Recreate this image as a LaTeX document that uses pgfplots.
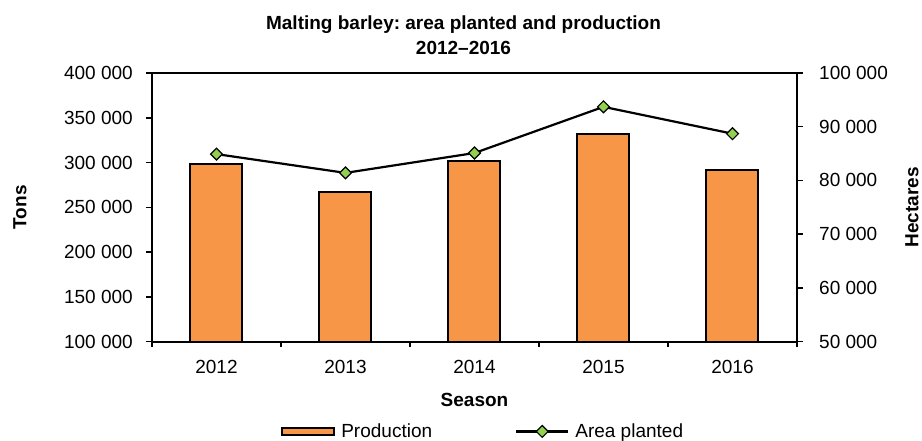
\documentclass[border=0pt]{standalone}
\usepackage{pgfplots}
\pgfplotsset{compat=1.18}
\usepackage{fontspec}
\setmainfont{Liberation Sans}
\frenchspacing
\definecolor{barorange}{RGB}{247,150,70}
\definecolor{markgreen}{RGB}{146,208,80}
\newcommand{\fs}{\fontsize{19}{22}\selectfont}
\pgfplotsset{
  barlegend/.style={legend image code/.code={\draw[##1] (0pt,-3.8pt) rectangle (52pt,3.8pt);}},
  linelegend/.style={legend image code/.code={\draw[mark repeat=2, mark phase=2, ##1] plot coordinates {(0pt,0pt) (26pt,0pt) (52pt,0pt)};}},
  common/.style={
    scale only axis, width=645pt, height=268.5pt,
    xmin=-0.5, xmax=4.5,
    axis line style={line width=2pt},
    tick align=outside,
    major tick length=6pt,
    every tick/.style={black, line width=1.5pt},
    tick label style={font=\fs},
    label style={font=\fs\bfseries},
    scaled y ticks=false,
    yticklabel style={/pgf/number format/fixed, /pgf/number format/1000 sep={\ }, /pgf/number format/assume math mode=true},
  }
}
\begin{document}
\begin{tikzpicture}
\begin{axis}[common, name=main,
  ymin=100000, ymax=400000, ytick={100000,150000,...,400000},
  ytick pos=left,
  xtick={0,1,2,3,4}, xticklabels={2012,2013,2014,2015,2016},
  minor xtick={-0.5,0.5,1.5,2.5,3.5,4.5},
  xtick pos=bottom,
  major x tick style={draw=none},
  minor tick length=5pt,
  minor x tick style={black, line width=1.5pt},
  xticklabel style={inner sep=0pt, yshift=-12.5pt},
  yticklabel style={inner sep=0pt, xshift=-13pt},
  title={Malting barley: area planted and production\\2012–2016},
  title style={font=\fontsize{19}{25.5}\selectfont\bfseries, align=center, at={(axis description cs:0.5,1)}, anchor=south, inner sep=0pt, yshift=12pt, xshift=-11pt},
  xlabel={Season}, xlabel style={at={(axis description cs:0.5,-0.217)}, anchor=center},
  ylabel={Tons}, ylabel style={at={(axis description cs:-0.2047,0.5)}, anchor=center},
  ybar, bar width=52pt,
]
\addplot[fill=barorange, draw=black, line width=2pt, bar shift=0pt]
  coordinates {(0,298000) (1,267000) (2,302000) (3,332000) (4,292000)};
\end{axis}
\begin{axis}[common,
  ymin=50000, ymax=100000, ytick={50000,60000,...,100000},
  axis y line*=right, axis x line=none,
  yticklabel style={inner sep=0pt, xshift=16pt},
  ylabel={Hectares}, ylabel style={at={(axis description cs:1.178,0.5)}, anchor=center},
  legend columns=2,
  legend style={draw=none, fill=none, font=\fs, inner sep=0pt, outer sep=0pt,
    at={(axis description cs:0.2005,-0.335)}, anchor=west,
    nodes={inner sep=0pt},
    column sep=6pt,
    /tikz/every even column/.append style={column sep=83pt}},
]
\addlegendimage{fill=barorange, draw=black, line width=2pt, barlegend}
\addlegendentry{Production}
\addplot[black, line width=2.2pt, mark=square*, mark size=4.2pt,
  mark options={rotate=45, fill=markgreen, draw=black, line width=1.2pt}, linelegend]
  coordinates {(0,84900) (1,81400) (2,85100) (3,93700) (4,88700)};
\addlegendentry{Area planted}
\end{axis}
\pgfresetboundingbox
\path (main.south west) ++(-152pt,-98.5pt) rectangle ++(922pt,440pt);
\end{tikzpicture}
\end{document}
